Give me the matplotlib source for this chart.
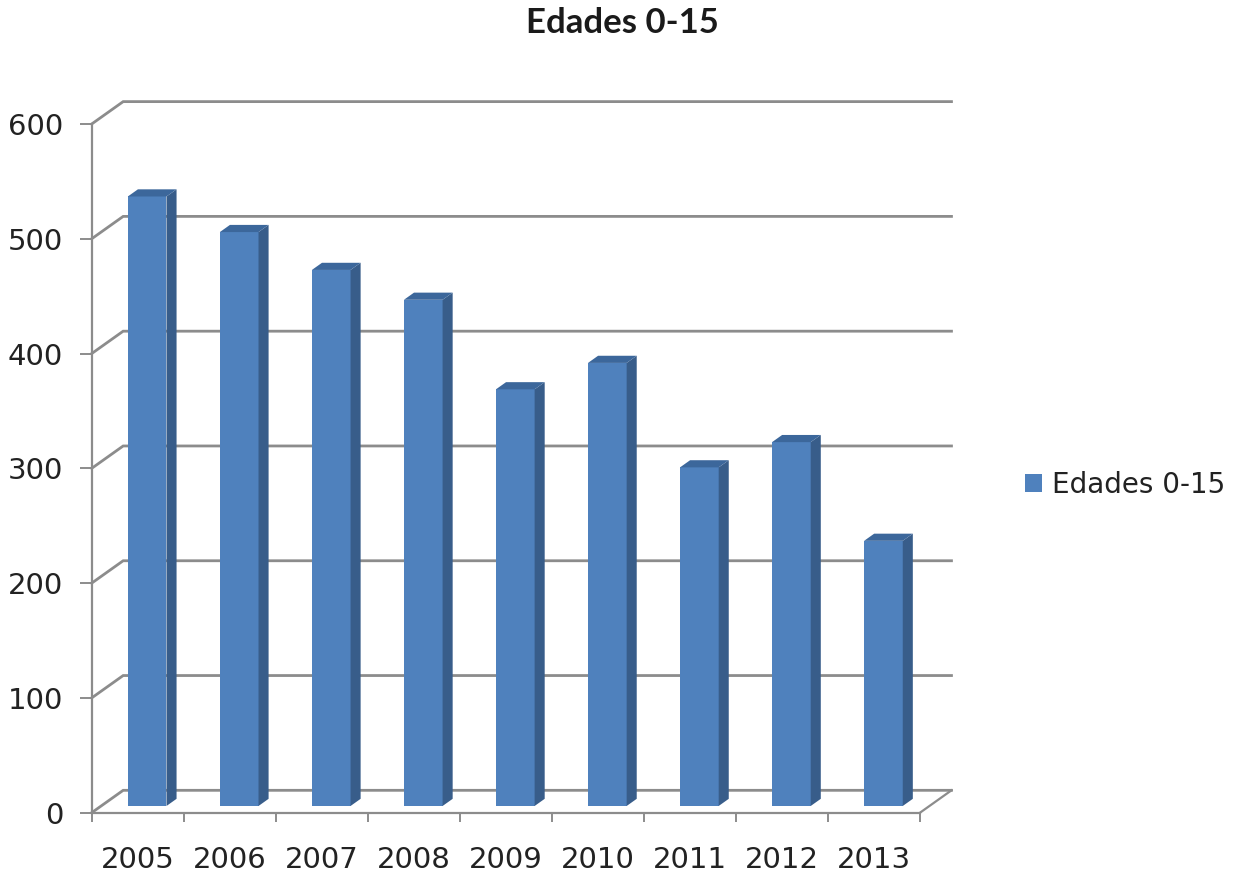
import numpy as np
import matplotlib
matplotlib.use("Agg")
import matplotlib.pyplot as plt
from matplotlib.patches import Polygon, Patch

# Datos
years = ["2005", "2006", "2007", "2008", "2009", "2010", "2011", "2012", "2013"]
values = [531, 500, 467, 441, 363, 386, 295, 317, 231]
yticks = [0, 100, 200, 300, 400, 500, 600]
title = "Edades 0-15"
series_name = "Edades 0-15"

# Colores estilo Excel
c_front = "#4F81BD"
c_side = "#385D8A"
c_top = "#3C679B"
c_grid = "#8C8C8C"
c_axis = "#8C8C8C"

# Profundidad del efecto 3D (en unidades de categoria / valor)
dx, dy = 0.342, 19.5
d0, d1 = 0.30, 0.62      # la barra ocupa esta fraccion de la profundidad
bar_w = 0.42

fig = plt.figure(figsize=(12.34, 8.77), dpi=100)
W, H = 1234, 877
x0, x1 = 91.7, 920.0
y0, y1 = 812.7, 124.0
ax = fig.add_axes([x0 / W, 1 - y0 / H, (x1 - x0) / W, (y0 - y1) / H])
n = len(years)
ax.set_xlim(0, n)
ax.set_ylim(0, 600)

# Pared del fondo y lineas de division
for v in yticks:
    ax.plot([0, dx, n + dx], [v, v + dy, v + dy], color=c_grid, lw=2.0,
            clip_on=False, zorder=1, solid_joinstyle="miter")
# borde derecho del suelo
ax.plot([n, n + dx], [0, dy], color=c_axis, lw=1.6, clip_on=False, zorder=1)

# Barras 3D
for i, v in enumerate(values):
    left = i + 0.5 - bar_w / 2 + d0 * dx
    right = left + bar_w
    b = d0 * dy
    t = v + d0 * dy
    ddx = (d1 - d0) * dx
    ddy = (d1 - d0) * dy
    front = Polygon([[left, b], [right, b], [right, t], [left, t]],
                    closed=True, facecolor=c_front, edgecolor="none",
                    clip_on=False, zorder=3)
    side = Polygon([[right, b], [right + ddx, b + ddy], [right + ddx, t + ddy],
                    [right, t]], closed=True, facecolor=c_side,
                   edgecolor="none", clip_on=False, zorder=3)
    top = Polygon([[left, t], [right, t], [right + ddx, t + ddy],
                   [left + ddx, t + ddy]], closed=True, facecolor=c_top,
                  edgecolor="none", clip_on=False, zorder=3)
    for p in (front, side, top):
        ax.add_patch(p)

# Ejes
for s in ("top", "right"):
    ax.spines[s].set_visible(False)
for s in ("left", "bottom"):
    ax.spines[s].set_color(c_axis)
    ax.spines[s].set_linewidth(1.6)

ax.set_yticks(yticks)
ax.set_yticklabels([str(v) for v in yticks])
ax.tick_params(axis="y", direction="out", length=8.5, width=1.4, color=c_axis,
               labelsize=21, pad=12, labelcolor="#222222")

ax.set_xticks(np.arange(n + 1))
ax.set_xticklabels([])
ax.set_xticks(np.arange(n) + 0.5, minor=True)
ax.set_xticklabels(years, minor=True)
ax.tick_params(axis="x", which="major", direction="out", length=6.5,
               width=1.4, color=c_axis)
ax.tick_params(axis="x", which="minor", length=0, labelsize=21, pad=24,
               labelcolor="#222222")

fig.text(622 / W, 1 - 23 / H, title, ha="center", va="center",
         fontsize=25, fontweight="bold", family="Lato", color="#1a1a1a")

fig.legend(handles=[Patch(facecolor=c_front, edgecolor="none")],
           labels=[series_name], loc="center left",
           bbox_to_anchor=(1000 / W, 1 - 485 / H), frameon=False,
           fontsize=20, handlelength=0.62, handleheight=0.62,
           handletextpad=0.35, labelcolor="#222222")

fig.savefig("out.png", dpi=100, facecolor="white")
